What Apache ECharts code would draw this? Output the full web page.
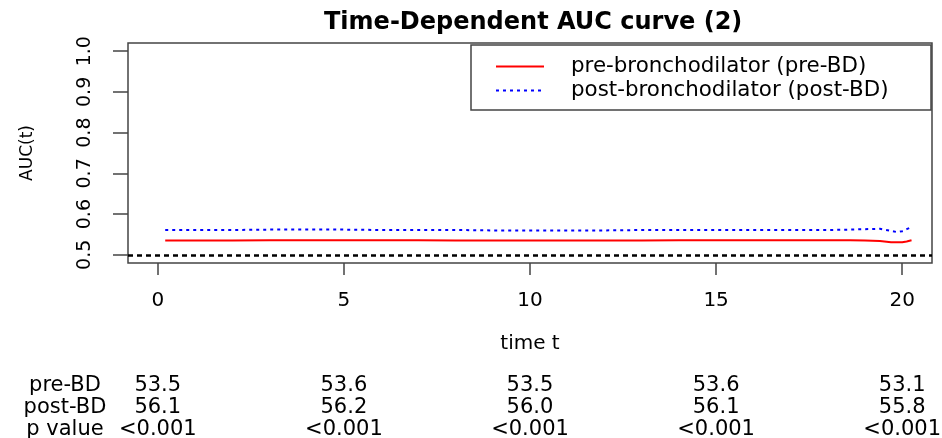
<!DOCTYPE html>
<html><head><meta charset="utf-8">
<script src="https://cdn.jsdelivr.net/npm/echarts@6/dist/echarts.min.js"></script>
<style>html,body{margin:0;padding:0;background:#fff}#c{width:942px;height:438px}</style>
</head><body><div id="c"></div>
<script>
// ---- data ----
const times  = [0.2, 1, 2, 3, 4, 5, 6, 7, 8, 9, 10, 11, 12, 13, 14, 15, 16, 17, 18, 18.6, 19.0, 19.4, 19.7, 19.85, 20.0, 20.12, 20.25];
const preBD  = [0.535, 0.535, 0.535, 0.536, 0.536, 0.536, 0.536, 0.536, 0.535, 0.535, 0.535, 0.535, 0.535, 0.535, 0.536, 0.536, 0.536, 0.536, 0.536, 0.536, 0.535, 0.534, 0.531, 0.531, 0.531, 0.533, 0.536];
const postBD = [0.561, 0.561, 0.561, 0.562, 0.562, 0.562, 0.561, 0.561, 0.561, 0.560, 0.560, 0.560, 0.560, 0.561, 0.561, 0.561, 0.561, 0.561, 0.561, 0.562, 0.563, 0.564, 0.559, 0.556, 0.558, 0.563, 0.568];
const refLine = 0.5;
const xTicks = [0, 5, 10, 15, 20];
const yTicks = [0.5, 0.6, 0.7, 0.8, 0.9, 1.0];
const seriesNames = ['pre-bronchodilator (pre-BD)', 'post-bronchodilator (post-BD)'];
const tableRowLabels = ['pre-BD', 'post-BD', 'p value'];
const tablePre  = ['53.5', '53.6', '53.5', '53.6', '53.1'];
const tablePost = ['56.1', '56.2', '56.0', '56.1', '55.8'];
const tableP    = ['<0.001', '<0.001', '<0.001', '<0.001', '<0.001'];
const titleText = 'Time-Dependent AUC curve (2)';

const FONT = 'DejaVu Sans';
const AX = '#444';
const chart = echarts.init(document.getElementById('c'), null, {renderer: 'canvas'});

const option = {
  animation: false,
  backgroundColor: '#fff',
  title: {
    text: titleText, left: 324, top: 11, padding: 0,
    textStyle: {fontFamily: FONT, fontWeight: 'bold', fontSize: 24, color: '#000'}
  },
  grid: {left: 128, right: 10, top: 43, bottom: 175, show: true, borderColor: AX, borderWidth: 1.5, backgroundColor: 'transparent'},
  legend: {
    orient: 'vertical', left: 495, top: 56, padding: 0,
    itemWidth: 48, itemHeight: 20, itemGap: 3,
    data: seriesNames,
    itemStyle: {opacity: 0},
    textStyle: {fontFamily: FONT, fontSize: 21.4, color: '#000', padding: [0, 0, 0, 22]}
  },
  xAxis: {
    type: 'value', min: -0.8, max: 20.8,
    axisLine: {show: false, onZero: false}, splitLine: {show: false},
    axisTick: {show: true, customValues: xTicks, length: 12, lineStyle: {color: AX, width: 1.5}},
    axisLabel: {customValues: xTicks, margin: 28, fontFamily: FONT, fontSize: 20, color: '#000'},
    name: 'time t', nameLocation: 'middle', nameGap: 71,
    nameTextStyle: {fontFamily: FONT, fontSize: 20, color: '#000'}
  },
  yAxis: {
    type: 'value', min: 0.48, max: 1.02,
    axisLine: {show: false, onZero: false}, splitLine: {show: false},
    axisTick: {show: true, customValues: yTicks, length: 15, lineStyle: {color: AX, width: 1.5}},
    axisLabel: {customValues: yTicks, rotate: 90, margin: 33, fontFamily: FONT, fontSize: 19, color: '#000',
      formatter: v => v.toFixed(1)},
    name: 'AUC(t)', nameLocation: 'middle', nameGap: 92,
    nameTextStyle: {fontFamily: FONT, fontSize: 17, color: '#000'}
  },
  series: [
    {
      name: seriesNames[0], type: 'line', symbol: 'none', silent: true,
      data: times.map((t, i) => [t, preBD[i]]),
      lineStyle: {color: '#ff0000', width: 2},
      itemStyle: {color: '#ff0000'}
    },
    {
      name: seriesNames[1], type: 'line', symbol: 'none', silent: true,
      data: times.map((t, i) => [t, postBD[i]]),
      lineStyle: {color: '#0000ff', width: 2, type: [3, 4]},
      itemStyle: {color: '#0000ff'},
      markLine: {
        silent: true, symbol: ['none', 'none'], label: {show: false},
        lineStyle: {color: '#000', width: 2.5, type: [5, 4]},
        data: [{yAxis: refLine}]
      }
    }
  ]
};
chart.setOption(option);

// table under the plot, columns placed through the x scale
const rowsY = [385.5, 408, 430];
const rows = [tablePre, tablePost, tableP];
const g = [{
  type: 'rect', shape: {x: 471, y: 45, width: 460, height: 65},
  style: {fill: 'none', stroke: AX, lineWidth: 1.5}, silent: true
}];
rows.forEach((vals, r) => {
  g.push({type: 'text', x: 65, y: rowsY[r], silent: true,
    style: {text: tableRowLabels[r], fontFamily: FONT, fontSize: 21, fill: '#000', align: 'center', verticalAlign: 'middle'}});
  vals.forEach((v, c) => {
    const px = chart.convertToPixel({xAxisIndex: 0}, xTicks[c]);
    g.push({type: 'text', x: px, y: rowsY[r], silent: true,
      style: {text: v, fontFamily: FONT, fontSize: 21, fill: '#000', align: 'center', verticalAlign: 'middle'}});
  });
});
chart.setOption({graphic: g});
</script>
</body></html>
